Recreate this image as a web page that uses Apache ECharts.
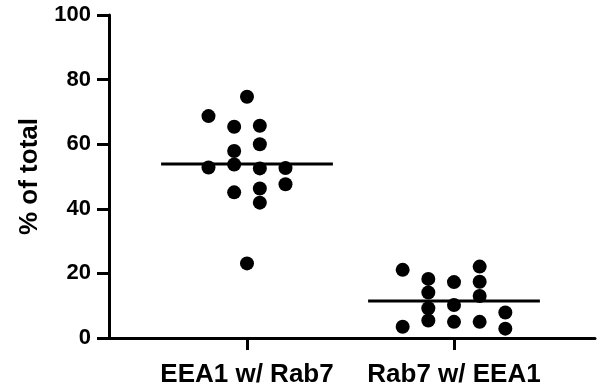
<!DOCTYPE html>
<html>
<head>
<meta charset="utf-8">
<script src="https://cdn.jsdelivr.net/npm/echarts@6/dist/echarts.min.js"></script>
<style>html,body{margin:0;padding:0;background:#fff}#c{width:604px;height:392px}</style>
</head>
<body>
<div id="c"></div>
<script>
var categories = ['EEA1 w/ Rab7', 'Rab7 w/ EEA1'];
var yTicks = [0, 20, 40, 60, 80, 100];
// values per group, with beeswarm column index of each point
var eea1Values = [68.7, 52.8, 65.4, 57.9, 53.7, 45.1, 74.7, 23.1, 65.7, 60.0, 52.5, 46.3, 41.9, 52.6, 47.6];
var eea1Columns = [-1.5, -1.5, -0.5, -0.5, -0.5, -0.5, 0, 0, 0.5, 0.5, 0.5, 0.5, 0.5, 1.5, 1.5];
var rab7Values = [21.1, 3.5, 18.3, 14.1, 9.2, 5.4, 17.3, 10.2, 5.0, 22.1, 17.4, 13.0, 5.0, 7.9, 2.9];
var rab7Columns = [-2, -2, -1, -1, -1, -1, 0, 0, 0, 1, 1, 1, 1, 2, 2];

var groups = [
  {values: eea1Values, columns: eea1Columns},
  {values: rab7Values, columns: rab7Columns}
];
var colStep = 0.124;
var meanHalf = 0.415;
var FONT = 'Liberation Sans, Arial, sans-serif';

var series = [];
groups.forEach(function (g, gi) {
  var center = gi + 1;
  var pts = g.values.map(function (v, i) { return [center + g.columns[i] * colStep, v]; });
  var mean = g.values.reduce(function (a, b) { return a + b; }, 0) / g.values.length;
  series.push({
    type: 'scatter', data: pts, symbol: 'circle', symbolSize: 14,
    itemStyle: {color: '#000', opacity: 1}, silent: true, z: 3
  });
  series.push({
    type: 'line', data: [[center - meanHalf, mean], [center + meanHalf, mean]],
    symbol: 'none', lineStyle: {color: '#000', width: 3}, silent: true, z: 4
  });
});

var chart = echarts.init(document.getElementById('c'));
chart.setOption({
  animation: false,
  grid: {left: 109, right: 9, top: 15, bottom: 54, containLabel: false},
  xAxis: {
    type: 'value', min: 1/3, max: 2.6812,
    splitLine: {show: false},
    axisLine: {show: true, lineStyle: {color: '#000', width: 3}},
    axisTick: {show: true, length: 12, lineStyle: {color: '#000', width: 3}, customValues: [1, 2]},
    axisLabel: {
      customValues: [1, 2], margin: 24,
      color: '#000', fontWeight: 'bold', fontSize: 26, fontFamily: FONT,
      formatter: function (v) { return categories[Math.round(v) - 1] || ''; }
    }
  },
  yAxis: {
    type: 'value', min: yTicks[0], max: yTicks[yTicks.length - 1], interval: 20,
    name: '% of total', nameLocation: 'middle', nameGap: 66, nameRotate: 90,
    nameTextStyle: {color: '#000', fontWeight: 'bold', fontSize: 26, fontFamily: FONT},
    splitLine: {show: false},
    axisLine: {show: true, lineStyle: {color: '#000', width: 3}},
    axisTick: {show: true, length: 12, lineStyle: {color: '#000', width: 3}},
    axisLabel: {color: '#000', fontWeight: 'bold', fontSize: 22, fontFamily: FONT, margin: 18}
  },
  series: series
});
</script>
</body>
</html>
